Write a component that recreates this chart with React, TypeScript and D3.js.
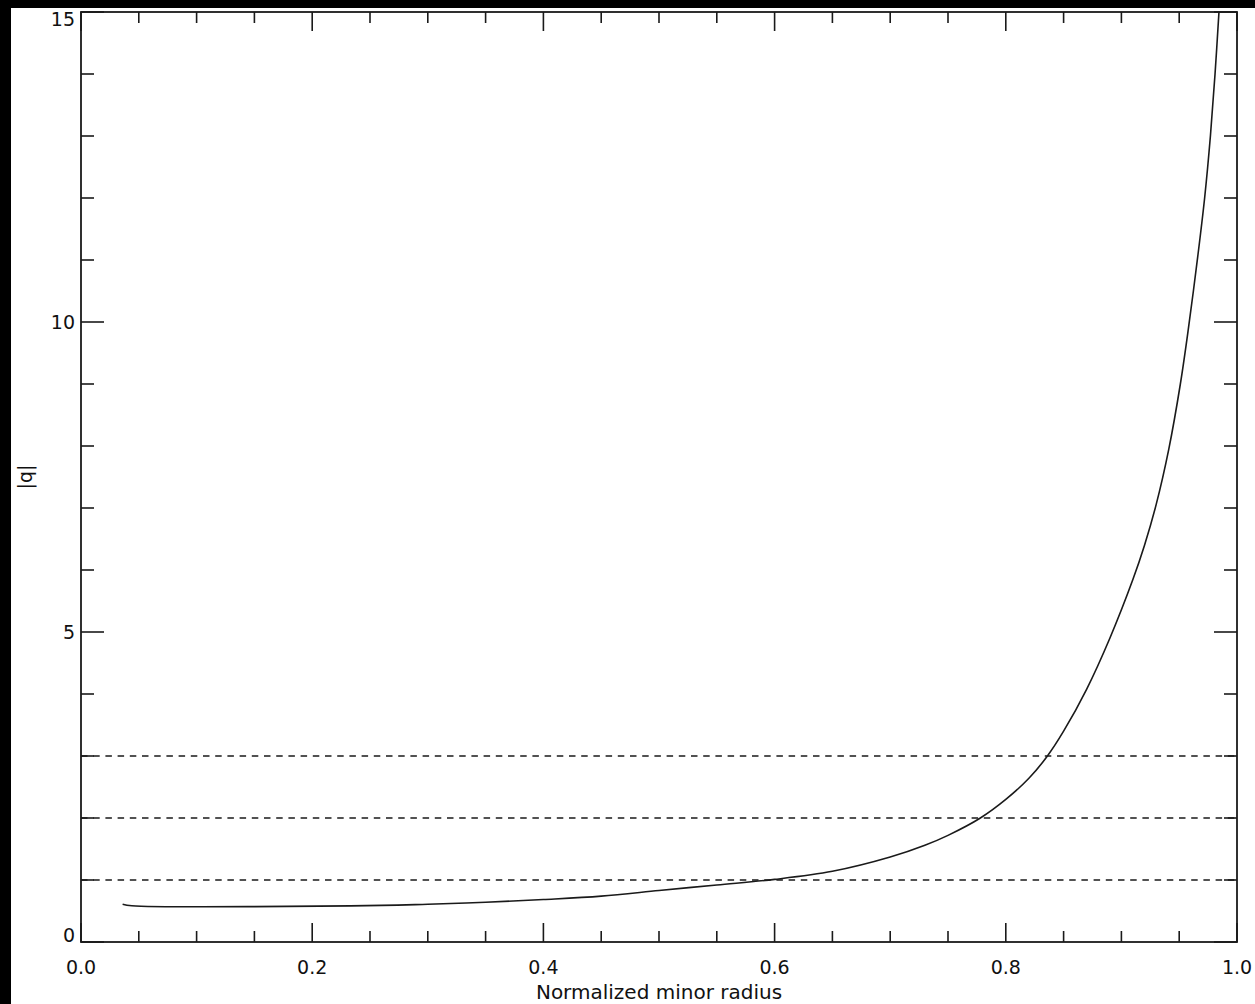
import React from "react";
import * as d3 from "d3";

// |q| profile vs normalized minor radius
const radius = [
  0.036, 0.044, 0.26, 0.3, 0.35, 0.4, 0.45, 0.5, 0.55, 0.6, 0.65, 0.7, 0.73, 0.75,
  0.778, 0.8, 0.82, 0.836, 0.85, 0.87, 0.89, 0.91, 0.92, 0.93, 0.941, 0.951, 0.958,
  0.966, 0.972, 0.977, 0.981, 0.9844,
];
const qAbs = [
  0.61, 0.585, 0.59, 0.61, 0.64, 0.685, 0.74, 0.83, 0.92, 1.01, 1.14, 1.37, 1.56, 1.72,
  2.0, 2.3, 2.64, 3.0, 3.4, 4.08, 4.9, 5.85, 6.4, 7.05, 7.95, 9.0, 9.9, 11.05, 12.0,
  13.0, 14.0, 15.0,
];
const refLines = [1, 2, 3];

const xMajor = [0, 0.2, 0.4, 0.6, 0.8, 1.0];
const xLabels = ["0.0", "0.2", "0.4", "0.6", "0.8", "1.0"];
const xMinor = d3.range(0, 21).map((i) => i * 0.05);
const yMajor = [0, 5, 10, 15];
const yLabels = ["0", "5", "10", "15"];
const yMinor = d3.range(0, 16);

const W = 1255;
const H = 1004;
const left = 81;
const right = 1237;
const top = 12;
const bottom = 942;
const font = "'DejaVu Sans', sans-serif";

export default function App() {
  const x = d3.scaleLinear().domain([0, 1]).range([left, right]);
  const y = d3.scaleLinear().domain([0, 15]).range([bottom, top]);

  const pts = radius.map((r, i) => [r, qAbs[i]] as [number, number]);
  const line = d3
    .line<[number, number]>()
    .x((d) => x(d[0]))
    .y((d) => y(d[1]))
    .curve(d3.curveCatmullRom.alpha(0.5));

  const stroke = "#1a1a1a";

  return (
    <div style={{ position: "fixed", left: 0, top: 0 }}>
      <svg width={W} height={H} style={{ display: "block" }}>
        <rect x={0} y={0} width={W} height={H} fill="#000" />
        <rect x={11} y={8} width={W - 11} height={H - 8} fill="#fff" />
        <defs>
          <clipPath id="plotArea">
            <rect x={left} y={top} width={right - left} height={bottom - top} />
          </clipPath>
        </defs>

        {/* dashed reference levels */}
        {refLines.map((v) => (
          <line
            key={v}
            x1={left}
            x2={right}
            y1={y(v)}
            y2={y(v)}
            stroke={stroke}
            strokeWidth={1.6}
            strokeDasharray="6.5,5.7"
          />
        ))}

        <path
          d={line(pts) || ""}
          fill="none"
          stroke={stroke}
          strokeWidth={1.6}
          clipPath="url(#plotArea)"
        />

        {/* frame */}
        <rect
          x={left}
          y={top}
          width={right - left}
          height={bottom - top}
          fill="none"
          stroke={stroke}
          strokeWidth={1.8}
        />

        {/* x ticks, bottom and top */}
        {xMinor.map((v, i) => {
          const len = i % 4 === 0 ? 19 : 11;
          return (
            <g key={"xt" + i}>
              <line x1={x(v)} x2={x(v)} y1={bottom} y2={bottom - len} stroke={stroke} strokeWidth={1.6} />
              <line x1={x(v)} x2={x(v)} y1={top} y2={top + len} stroke={stroke} strokeWidth={1.6} />
            </g>
          );
        })}
        {/* y ticks, left and right */}
        {yMinor.map((v) => {
          const len = v % 5 === 0 ? 23 : 13;
          return (
            <g key={"yt" + v}>
              <line x1={left} x2={left + len} y1={y(v)} y2={y(v)} stroke={stroke} strokeWidth={1.6} />
              <line x1={right} x2={right - len} y1={y(v)} y2={y(v)} stroke={stroke} strokeWidth={1.6} />
            </g>
          );
        })}

        {xMajor.map((v, i) => (
          <text
            key={"xl" + i}
            x={x(v)}
            y={974}
            textAnchor="middle"
            fontFamily={font}
            fontSize={19}
            fill="#111"
          >
            {xLabels[i]}
          </text>
        ))}
        {yMajor.map((v, i) => {
          const base = Math.min(Math.max(y(v) + 7, top + 14), bottom);
          return (
            <text
              key={"yl" + i}
              x={75}
              y={base}
              textAnchor="end"
              fontFamily={font}
              fontSize={19}
              fill="#111"
            >
              {yLabels[i]}
            </text>
          );
        })}

        <text
          x={(left + right) / 2}
          y={999}
          textAnchor="middle"
          fontFamily={font}
          fontSize={20}
          fill="#111"
        >
          Normalized minor radius
        </text>
        <text
          transform={`translate(32,${(top + bottom) / 2}) rotate(-90)`}
          textAnchor="middle"
          fontFamily={font}
          fontSize={19}
          fill="#111"
        >
          |q|
        </text>
      </svg>
    </div>
  );
}
